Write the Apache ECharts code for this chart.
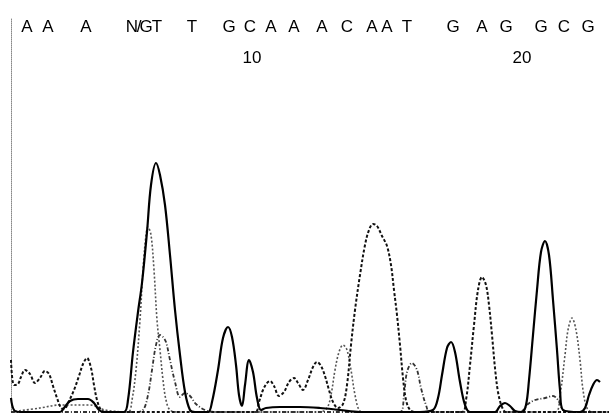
<!DOCTYPE html>
<html>
<head>
<meta charset="utf-8">
<script src="https://cdn.jsdelivr.net/npm/echarts@6/dist/echarts.min.js"></script>
<style>
html,body{margin:0;padding:0;background:#fff;}
#chart{width:609px;height:416px;}
</style>
</head>
<body>
<div id="chart"></div>
<script>
// Base calls along the top and their scan positions
const baseLetters = ['A','A','A','N','/','G','T','T','G','C','A','A','A','C','A','A','T','G','A','G','G','C','G'];
const basePositions = [27,48,86,132,139,146,157,192,229,250,271,294,322,347,372,387,407,453,482,506,541,564,588];
// Position ticks
const tickLabels = ['10','20'];
const tickPositions = [252,522];

// Trace signals [scan position, intensity]
const traceG = [[11,14],[14,2],[20,0],[60,0],[64,4],[70,11],[78,13],[88,13],[94,9],[99,2],[104,0],[124,0],[128,12],[133,60],[138,100],[142,129],[147,180],[151,227],[156,249],[160,237],[165,207],[170,157],[175,102],[180,57],[185,20],[190,2],[195,0],[208,0],[212,10],[218,42],[223,74],[228,85],[232,75],[236,47],[239,17],[242,6],[245,27],[249,52],[253,40],[257,14],[261,2],[266,4],[280,5],[300,5],[320,4],[340,2],[360,0],[420,0],[433,2],[438,14],[442,37],[447,64],[451,70],[455,60],[460,30],[465,7],[470,0],[495,0],[500,6],[505,9],[510,6],[515,1],[522,0],[526,7],[529,32],[533,77],[537,122],[541,160],[545,171],[549,157],[553,112],[557,62],[560,22],[563,2],[580,0],[585,4],[589,17],[593,27],[597,32],[600,30]];
const traceA = [[11,52],[14,27],[18,28],[21,35],[25,42],[30,38],[35,29],[40,34],[45,41],[49,38],[53,26],[57,14],[61,4],[64,3],[69,11],[74,22],[79,36],[83,48],[87,54],[91,44],[94,27],[97,12],[101,2],[106,0],[255,0],[259,10],[263,22],[267,29],[270,31],[274,26],[279,16],[284,20],[289,30],[294,34],[298,29],[303,22],[308,32],[313,45],[317,50],[321,46],[325,36],[329,22],[333,10],[338,4],[343,8],[347,27],[351,67],[355,102],[360,137],[365,167],[369,182],[373,188],[377,186],[382,176],[387,166],[391,147],[394,122],[397,97],[400,67],[403,34],[406,12],[410,2],[415,0],[462,0],[466,12],[470,47],[474,87],[478,122],[482,135],[486,127],[489,107],[492,77],[495,44],[498,20],[502,5],[506,0],[609,0]];
const traceC = [[11,0],[40,4],[60,7],[90,7],[105,2],[128,0],[132,12],[136,42],[140,92],[143,142],[146,177],[148,185],[151,177],[154,142],[157,92],[160,62],[163,32],[166,12],[170,2],[178,0],[320,0],[327,4],[331,17],[335,42],[339,60],[343,67],[347,62],[351,42],[355,17],[359,2],[363,0],[555,0],[560,17],[565,57],[568,82],[572,94],[576,82],[580,52],[583,22],[587,4],[592,0],[609,0]];
const traceT = [[11,0],[135,0],[143,2],[148,17],[152,42],[156,67],[160,77],[163,75],[166,70],[170,52],[175,30],[180,15],[185,19],[190,16],[196,8],[205,2],[215,0],[400,0],[404,17],[407,40],[412,49],[417,42],[421,24],[426,7],[430,0],[520,0],[528,8],[535,12],[545,14],[553,16],[558,12],[563,2],[570,0],[609,0]];

const chart = echarts.init(document.getElementById('chart'), null, {renderer:'canvas'});
function lineSeries(name, data, color, width, type){
  return {name, type:'line', data, showSymbol:false, smooth:0.35, clip:false,
    lineStyle:{color, width, type}, emphasis:{disabled:true}, animation:false};
}
chart.setOption({
  animation:false,
  backgroundColor:'#fff',
  grid:{left:11, right:0, top:18, bottom:4},
  xAxis:{type:'value', min:11, max:609, show:false},
  yAxis:{type:'value', min:0, max:394, axisLine:{show:true, lineStyle:{color:'#888', type:'dotted', width:1}},
    axisTick:{show:false}, axisLabel:{show:false}, splitLine:{show:false}},
  series:[
    lineSeries('C', traceC, '#555', 1.6, [2,2]),
    lineSeries('T', traceT, '#333', 1.8, [4,2,1,2]),
    lineSeries('A', traceA, '#111', 2, [3,2]),
    lineSeries('G', traceG, '#000', 2.2, 'solid')
  ]
});
const gfx = [];
baseLetters.forEach((b,i)=>{
  const px = chart.convertToPixel({gridIndex:0}, [basePositions[i], 0])[0];
  gfx.push({type:'text', x:px, y:27, style:{text:b, fill:'#000', font:'17px "Liberation Sans", Arial, sans-serif', align:'center', verticalAlign:'middle'}});
});
tickLabels.forEach((t,i)=>{
  const px = chart.convertToPixel({gridIndex:0}, [tickPositions[i], 0])[0];
  gfx.push({type:'text', x:px, y:58, style:{text:t, fill:'#000', font:'17px "Liberation Sans", Arial, sans-serif', align:'center', verticalAlign:'middle'}});
});
chart.setOption({graphic:gfx});
</script>
</body>
</html>
